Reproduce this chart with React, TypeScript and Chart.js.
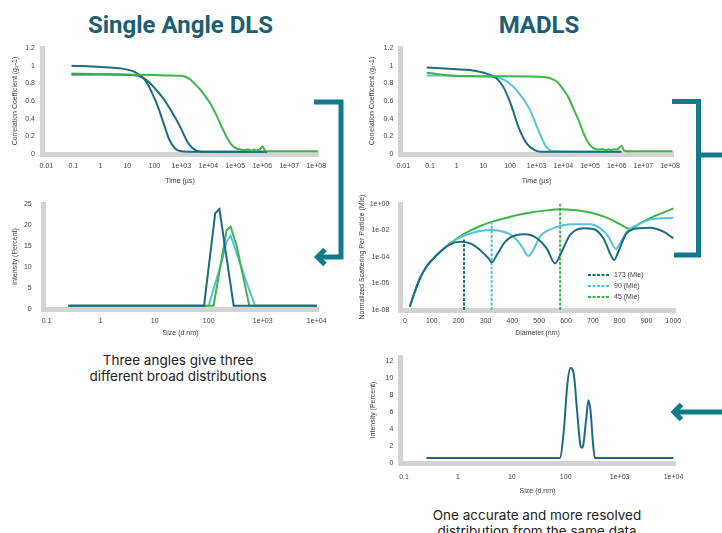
import React, { useEffect, useRef } from "react";
import { Chart, registerables } from "chart.js";

Chart.register(...registerables);

// ---------- colours ----------
const TEAL = "#1d6b80";
const LIGHT = "#56c2db";
const GREEN = "#3db54a";
const BRACKET = "#127a8b";
const AXIS_GRAY = "#d3d3d3";
const TICK = "#444";
const TITLE_COLOR = "#1b5f71";
const FONT = "'Liberation Sans', Arial, sans-serif";

// ---------- tick values / labels ----------
const TIME_TICKS = [0.01, 0.1, 1, 10, 100, 1e3, 1e4, 1e5, 1e6, 1e7, 1e8];
const TIME_TICK_LABELS = ["0.01", "0.1", "1", "10", "100", "1e+03", "1e+04", "1e+05", "1e+06", "1e+07", "1e+08"];
const CORR_TICKS = [0, 0.2, 0.4, 0.6, 0.8, 1, 1.2];
const CORR_TICK_LABELS = ["0", "0.2", "0.4", "0.6", "0.8", "1", "1.2"];
const SIZE_TICKS = [0.1, 1, 10, 100, 1000, 10000];
const SIZE_TICK_LABELS = ["0.1", "1", "10", "100", "1e+03", "1e+04"];
const SA_INT_TICKS = [0, 5, 10, 15, 20, 25];
const SA_INT_TICK_LABELS = ["0", "5", "10", "15", "20", "25"];
const MA_INT_TICKS = [0, 2, 4, 6, 8, 10, 12];
const MA_INT_TICK_LABELS = ["0", "2", "4", "6", "8", "10", "12"];
const DIAM_TICKS = [0, 100, 200, 300, 400, 500, 600, 700, 800, 900, 1000];
const DIAM_TICK_LABELS = ["0", "100", "200", "300", "400", "500", "600", "700", "800", "900", "1000"];
const MIE_TICKS = [1e-8, 1e-6, 1e-4, 1e-2, 1];
const MIE_TICK_LABELS = ["1e-08", "1e-06", "1e-04", "1e-02", "1e+00"];

// ---------- Single angle DLS: correlation ----------
const SA_CORR_X_173 = [0.085, 1, 5, 10, 20, 30, 50, 80, 130, 220, 350, 600, 1000, 2000, 1e5, 1.5e6];
const SA_CORR_Y_173 = [1.0, 0.985, 0.97, 0.955, 0.925, 0.89, 0.82, 0.7, 0.55, 0.35, 0.17, 0.06, 0.03, 0.025, 0.025, 0.025];
const SA_CORR_X_90 = [0.085, 1, 10, 25, 50, 100, 200, 350, 600, 1000, 1600, 2500, 4000, 6000, 1e5, 1.5e6];
const SA_CORR_Y_90 = [0.9, 0.9, 0.895, 0.885, 0.84, 0.75, 0.64, 0.53, 0.41, 0.28, 0.15, 0.07, 0.035, 0.025, 0.025, 0.025];
const SA_CORR_X_45 = [0.085, 1, 10, 100, 300, 1000, 2000, 3000, 5000, 8000, 1.2e4, 2e4, 3e4, 5e4, 7e4, 1e5, 1.5e5, 2e5, 3e5, 4e5, 5e5, 6e5, 7e5, 8e5, 1e6, 1.2e6, 1.5e6, 2e6, 1e7, 1.15e8];
const SA_CORR_Y_45 = [0.91, 0.905, 0.9, 0.895, 0.89, 0.885, 0.85, 0.8, 0.73, 0.65, 0.57, 0.44, 0.32, 0.18, 0.11, 0.07, 0.05, 0.045, 0.05, 0.04, 0.05, 0.04, 0.045, 0.05, 0.085, 0.05, 0.03, 0.03, 0.03, 0.03];

// ---------- MADLS: correlation ----------
const MA_CORR_X_173 = [0.075, 1, 3, 13, 30, 56, 115, 205, 420, 870, 1500, 1e5, 1.5e6];
const MA_CORR_Y_173 = [0.98, 0.96, 0.95, 0.91, 0.86, 0.76, 0.54, 0.31, 0.12, 0.04, 0.025, 0.025, 0.025];
const MA_CORR_X_90 = [0.075, 1, 18, 60, 180, 560, 1150, 2300, 4500, 1e5, 1.5e6];
const MA_CORR_Y_90 = [0.89, 0.885, 0.875, 0.84, 0.72, 0.5, 0.27, 0.08, 0.03, 0.025, 0.025];
const MA_CORR_X_45 = [0.075, 1.8, 100, 1000, 3000, 5600, 1e4, 1.5e4, 2.5e4, 3.7e4, 5e4, 7.5e4, 1e5, 1.3e5, 2e5, 3e5, 4e5, 5e5, 6e5, 8e5, 1e6, 1.5e6, 1.9e6, 2.5e6, 1e7, 1.25e8];
const MA_CORR_Y_45 = [0.92, 0.88, 0.88, 0.875, 0.86, 0.82, 0.73, 0.65, 0.5, 0.385, 0.28, 0.16, 0.1, 0.07, 0.05, 0.055, 0.045, 0.055, 0.045, 0.055, 0.05, 0.09, 0.04, 0.03, 0.03, 0.03];

// ---------- Single angle DLS: size distributions ----------
const SA_INT_X_173 = [0.25, 82, 132, 158, 290, 10000];
const SA_INT_Y_173 = [0.8, 0.8, 22.8, 23.8, 0.8, 0.8];
const SA_INT_X_90 = [0.25, 100, 174, 215, 255, 470, 725, 10000];
const SA_INT_Y_90 = [0.8, 0.8, 11.3, 16, 17.5, 7.4, 0.8, 0.8];
const SA_INT_X_45 = [0.25, 123, 215, 255, 330, 565, 10000];
const SA_INT_Y_45 = [0.8, 0.8, 18.8, 19.6, 15, 0.8, 0.8];

// ---------- MADLS: Mie scattering ----------
const MIE_X_45 = [18, 37, 56, 81, 106, 130, 180, 220, 280, 323, 379, 453, 528, 578, 627, 690, 752, 801, 839, 876, 925, 1000];
const MIE_Y_45 = [1.8e-8, 2.5e-7, 2.5e-6, 2.0e-5, 7.9e-5, 2.5e-4, 1.6e-3, 5.6e-3, 2.2e-2, 4.5e-2, 9.3e-2, 0.2, 0.33, 0.4, 0.35, 0.23, 0.093, 0.03, 0.0126, 0.035, 0.11, 0.47];
const MIE_X_90 = [18, 37, 56, 81, 106, 130, 168, 220, 280, 323, 367, 404, 435, 460, 478, 503, 553, 627, 690, 727, 758, 786, 805, 826, 864, 925, 1000];
const MIE_Y_90 = [1.8e-8, 2.5e-7, 2.5e-6, 2.0e-5, 7.9e-5, 2.4e-4, 1.07e-3, 4.1e-3, 9.1e-3, 1.1e-2, 8.1e-3, 3.5e-3, 6.3e-4, 1.2e-4, 3.4e-4, 3.5e-3, 1.5e-2, 3.0e-2, 3.0e-2, 1.5e-2, 3.5e-3, 4.0e-4, 1.5e-3, 8.1e-3, 2.6e-2, 7.4e-2, 9.3e-2];
const MIE_X_173 = [18, 37, 56, 81, 106, 130, 168, 205, 242, 280, 311, 323, 342, 373, 416, 447, 491, 528, 559, 584, 615, 665, 702, 739, 767, 779, 795, 826, 876, 913, 963, 1000];
const MIE_Y_173 = [1.8e-8, 2.5e-7, 2.5e-6, 2.0e-5, 7.9e-5, 2.3e-4, 8.9e-4, 1.4e-3, 1.07e-3, 3.4e-4, 7.9e-5, 4.0e-5, 1.4e-4, 1.4e-3, 4.6e-3, 5.1e-3, 2.6e-3, 4.5e-4, 3.3e-5, 2.5e-4, 4.6e-3, 1.5e-2, 1.3e-2, 2.6e-3, 1.4e-4, 5.9e-5, 2.5e-4, 6.2e-3, 1.5e-2, 1.6e-2, 8.1e-3, 2.6e-3];
const MIE_MARK_X = [220, 323, 578];
const MIE_MARK_TOP = [2.6e-3, 3.5e-2, 1.0];
const MIE_LEGEND_LABELS = ["173 (Mie)", "90 (Mie)", "45 (Mie)"];

// ---------- MADLS: size distribution ----------
const MA_INT_X = [0.26, 78, 93, 107, 123, 142, 163, 189, 200, 213, 241, 265, 290, 322, 347, 10000];
const MA_INT_Y = [0.6, 0.6, 4.1, 9.2, 11.2, 10.4, 6.1, 2.0, 1.8, 2.2, 5.3, 7.4, 6.1, 2.2, 0.6, 0.6];

// ---------- helpers ----------
type Box = { left: number; top: number; width: number; height: number; caLeft: number; caTop: number; caRight: number; caBottom: number };

const B1: Box = { left: 0, top: 40, width: 330, height: 150, caLeft: 42, caTop: 48, caRight: 318, caBottom: 154 };
const B2: Box = { left: 340, top: 40, width: 350, height: 150, caLeft: 400, caTop: 48, caRight: 673, caBottom: 154 };
const B3: Box = { left: 0, top: 195, width: 330, height: 150, caLeft: 43, caTop: 204, caRight: 318, caBottom: 309 };
const B4: Box = { left: 340, top: 195, width: 350, height: 150, caLeft: 400, caTop: 204, caRight: 675, caBottom: 310 };
const B5: Box = { left: 340, top: 350, width: 350, height: 150, caLeft: 400, caTop: 357, caRight: 675, caBottom: 463 };

function pts(xs: number[], ys: number[]) {
  return xs.map((x, i) => ({ x, y: ys[i] }));
}

function series(xs: number[], ys: number[], color: string, order: number, smooth = true, extra: any = {}) {
  return {
    data: pts(xs, ys),
    borderColor: color,
    backgroundColor: color,
    borderWidth: 2,
    pointRadius: 0,
    fill: false,
    tension: 0,
    cubicInterpolationMode: smooth ? "monotone" : "default",
    order,
    ...extra,
  };
}

function axis(o: {
  kind: "x" | "y";
  type: string;
  min: number;
  max: number;
  values: number[];
  labels: string[];
  title: string;
  showTitle?: boolean;
  tickPad: number;
  titlePad: number;
  size: number;
}) {
  return {
    type: o.type,
    min: o.min,
    max: o.max,
    bounds: "data",
    position: o.kind === "x" ? "bottom" : "left",
    grid: { display: false, drawTicks: false },
    border: { display: true, color: AXIS_GRAY, width: 5 },
    afterBuildTicks: (s: any) => {
      s.ticks = o.values.map((v) => ({ value: v }));
    },
    afterFit: (s: any) => {
      if (o.kind === "x") s.height = o.size;
      else s.width = o.size;
      s.paddingLeft = 0;
      s.paddingRight = 0;
      s.paddingTop = 0;
      s.paddingBottom = 0;
    },
    ticks: {
      autoSkip: false,
      maxRotation: 0,
      minRotation: 0,
      padding: o.tickPad,
      color: TICK,
      font: { family: FONT, size: 7 },
      callback: (_v: any, i: number) => o.labels[i],
    },
    title: {
      display: o.showTitle !== false,
      text: o.title,
      color: TICK,
      font: { family: FONT, size: 7 },
      padding: o.kind === "x" ? { top: 0, bottom: o.titlePad } : { top: o.titlePad, bottom: 0 },
    },
  };
}

function config(b: Box, datasets: any[], x: any, y: any) {
  return {
    type: "line",
    data: { datasets },
    options: {
      responsive: false,
      maintainAspectRatio: false,
      animation: false,
      devicePixelRatio: 1,
      events: [],
      layout: { padding: { left: 0, top: b.caTop - b.top, right: b.left + b.width - b.caRight, bottom: 0 } },
      plugins: { legend: { display: false }, tooltip: { enabled: false } },
      scales: { x, y },
    },
  };
}

const xh = (b: Box) => b.top + b.height - b.caBottom;
const yw = (b: Box) => b.caLeft - b.left;

function ChartCanvas({ box, make }: { box: Box; make: () => any }) {
  const ref = useRef<HTMLCanvasElement>(null);
  useEffect(() => {
    const chart = new Chart(ref.current as HTMLCanvasElement, make());
    return () => chart.destroy();
  }, []);
  return (
    <canvas
      ref={ref}
      width={box.width}
      height={box.height}
      style={{ position: "absolute", left: box.left, top: box.top, width: box.width, height: box.height }}
    />
  );
}

// ---------- chart configs ----------
const makeSACorr = () =>
  config(
    B1,
    [
      series(SA_CORR_X_173, SA_CORR_Y_173, TEAL, 1),
      series(SA_CORR_X_90, SA_CORR_Y_90, TEAL, 2),
      series(SA_CORR_X_45, SA_CORR_Y_45, GREEN, 0),
    ],
    axis({ kind: "x", type: "logarithmic", min: 0.0069, max: 1.157e8, values: TIME_TICKS, labels: TIME_TICK_LABELS, title: "Time (µs)", tickPad: 7.8, titlePad: 4.8, size: xh(B1) }),
    axis({ kind: "y", type: "linear", min: 0, max: 1.2, values: CORR_TICKS, labels: CORR_TICK_LABELS, title: "Correlation Coefficient (g₂-1)", tickPad: 7, titlePad: 10.8, size: yw(B1) })
  );

const makeMACorr = () =>
  config(
    B2,
    [
      series(MA_CORR_X_173, MA_CORR_Y_173, TEAL, 1),
      series(MA_CORR_X_90, MA_CORR_Y_90, LIGHT, 2),
      series(MA_CORR_X_45, MA_CORR_Y_45, GREEN, 0),
    ],
    axis({ kind: "x", type: "logarithmic", min: 0.0075, max: 1.29e8, values: TIME_TICKS, labels: TIME_TICK_LABELS, title: "Time (µs)", tickPad: 7.8, titlePad: 4.8, size: xh(B2) }),
    axis({ kind: "y", type: "linear", min: 0, max: 1.2, values: CORR_TICKS, labels: CORR_TICK_LABELS, title: "Correlation Coefficient (g₂-1)", tickPad: 6.7, titlePad: 27.8, size: yw(B2) })
  );

const makeSAInt = () =>
  config(
    B3,
    [
      series(SA_INT_X_173, SA_INT_Y_173, TEAL, 0, false),
      series(SA_INT_X_90, SA_INT_Y_90, LIGHT, 2, false),
      series(SA_INT_X_45, SA_INT_Y_45, GREEN, 1, false),
    ],
    axis({ kind: "x", type: "logarithmic", min: 0.0854, max: 10570, values: SIZE_TICKS, labels: SIZE_TICK_LABELS, title: "Size (d.nm)", tickPad: 7.8, titlePad: 7.8, size: xh(B3) }),
    axis({ kind: "y", type: "linear", min: 0, max: 25, values: SA_INT_TICKS, labels: SA_INT_TICK_LABELS, title: "Intensity (Percent)", tickPad: 11.3, titlePad: 10.8, size: yw(B3) })
  );

const makeMie = () =>
  config(
    B4,
    [
      series(MIE_X_45, MIE_Y_45, GREEN, 2),
      series(MIE_X_90, MIE_Y_90, LIGHT, 1),
      series(MIE_X_173, MIE_Y_173, TEAL, 0),
      series([MIE_MARK_X[0], MIE_MARK_X[0]], [1e-8, MIE_MARK_TOP[0]], TEAL, 3, false, { borderDash: [3, 1.5] }),
      series([MIE_MARK_X[1], MIE_MARK_X[1]], [1e-8, MIE_MARK_TOP[1]], LIGHT, 3, false, { borderDash: [3, 1.5] }),
      series([MIE_MARK_X[2], MIE_MARK_X[2]], [1e-8, MIE_MARK_TOP[2]], GREEN, 3, false, { borderDash: [3, 1.5] }),
    ],
    axis({ kind: "x", type: "linear", min: -18.6, max: 1006, values: DIAM_TICKS, labels: DIAM_TICK_LABELS, title: "Diameter (nm)", tickPad: 6.8, titlePad: 7.8, size: xh(B4) }),
    axis({ kind: "y", type: "logarithmic", min: 1e-8, max: 1, values: MIE_TICKS, labels: MIE_TICK_LABELS, title: "Normalized Scattering Per Particle (Mie)", showTitle: false, tickPad: 10.7, titlePad: 18, size: yw(B4) })
  );

const makeMAInt = () =>
  config(
    B5,
    [series(MA_INT_X, MA_INT_Y, TEAL, 0)],
    axis({ kind: "x", type: "logarithmic", min: 0.0843, max: 10670, values: SIZE_TICKS, labels: SIZE_TICK_LABELS, title: "Size (d.nm)", tickPad: 9.5, titlePad: 5.1, size: xh(B5) }),
    axis({ kind: "y", type: "linear", min: 0, max: 12.5, values: MA_INT_TICKS, labels: MA_INT_TICK_LABELS, title: "Intensity (Percent)", tickPad: 6.7, titlePad: 28.8, size: yw(B5) })
  );

const LEGEND_COLORS = [TEAL, LIGHT, GREEN];

export default function App() {
  const heading: React.CSSProperties = {
    position: "absolute",
    top: 13,
    width: 300,
    textAlign: "center",
    fontFamily: "Roboto, 'Noto Sans', sans-serif",
    fontWeight: 700,
    fontSize: 24,
    lineHeight: "24px",
    color: TITLE_COLOR,
    whiteSpace: "nowrap",
  };
  const caption: React.CSSProperties = {
    position: "absolute",
    textAlign: "center",
    fontFamily: "Inter, 'Noto Sans', sans-serif",
    color: "#222",
    whiteSpace: "nowrap",
  };
  return (
    <div style={{ position: "fixed", left: 0, top: 0, width: 722, height: 533, background: "#fff", overflow: "hidden" }}>
      <div style={{ ...heading, left: 180.5 - 150 }}>Single Angle DLS</div>
      <div style={{ ...heading, left: 539 - 150 }}>MADLS</div>

      <ChartCanvas box={B1} make={makeSACorr} />
      <ChartCanvas box={B2} make={makeMACorr} />
      <ChartCanvas box={B3} make={makeSAInt} />
      <ChartCanvas box={B4} make={makeMie} />
      <ChartCanvas box={B5} make={makeMAInt} />

      {/* rotated y title of the Mie chart */}
      <div
        style={{
          position: "absolute",
          left: 362 - 80,
          top: 257 - 5,
          width: 160,
          height: 10,
          lineHeight: "10px",
          textAlign: "center",
          fontFamily: FONT,
          fontSize: 7,
          color: TICK,
          transform: "rotate(-90deg)",
          whiteSpace: "nowrap",
        }}
      >
        Normalized Scattering Per Particle (Mie)
      </div>

      {/* Mie legend text */}
      {MIE_LEGEND_LABELS.map((l, i) => (
        <div
          key={l}
          style={{ position: "absolute", left: 614, top: 275 + i * 11 - 5, height: 10, lineHeight: "10px", fontFamily: FONT, fontSize: 7, color: TICK, whiteSpace: "nowrap" }}
        >
          {l}
        </div>
      ))}

      <div style={{ ...caption, left: 178 - 130, top: 352, width: 260, fontSize: 13.5, lineHeight: "16px" }}>
        Three angles give three
        <br />
        different broad distributions
      </div>
      <div style={{ ...caption, left: 537 - 150, top: 507, width: 300, fontSize: 13.5, lineHeight: "16px" }}>
        One accurate and more resolved
        <br />
        distribution from the same data
      </div>

      <svg width={722} height={533} style={{ position: "absolute", left: 0, top: 0, pointerEvents: "none" }}>
        {MIE_LEGEND_LABELS.map((l, i) => (
          <line key={l} x1={588} x2={610} y1={275 + i * 11} y2={275 + i * 11} stroke={LEGEND_COLORS[i]} strokeWidth={2} strokeDasharray="3,1.5" />
        ))}
        <g fill="none" stroke={BRACKET} strokeWidth={5} strokeLinejoin="miter">
          <polyline points="314,102 341,102 341,257 318,257" />
          <polyline points="325,249.5 317.5,257 325,264.5" />
          <polyline points="672,101.5 698.5,101.5 698.5,255 674,255" />
          <line x1={698.5} y1={155} x2={722} y2={155} />
          <line x1={675} y1={412} x2={722} y2={412} />
          <polyline points="681.5,404.5 674,412 681.5,419.5" />
        </g>
      </svg>
    </div>
  );
}
